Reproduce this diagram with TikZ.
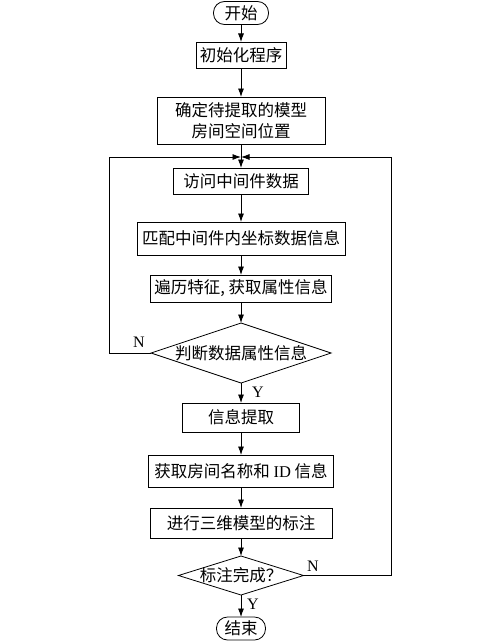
\documentclass[tikz,border=0pt]{standalone}
\usepackage{fontspec}
\setmainfont{Liberation Serif}
\newfontfamily\cjk{Noto Sans CJK SC}
\usetikzlibrary{shapes.geometric,arrows.meta}
\begin{document}
\begin{tikzpicture}[x=1pt,y=-1pt,
  every node/.style={inner sep=0pt, outer sep=0pt},
  proc/.style={draw, line width=0.8pt, font=\cjk\fontsize{16.5}{21}\selectfont, align=center},
  term/.style={proc, rounded corners=11pt},
  decide/.style={draw, diamond, line width=0.8pt, font=\cjk\fontsize{16.5}{21}\selectfont},
  flow/.style={line width=0.8pt, -{Latex[length=8.5pt,width=6pt]}},
  lbl/.style={font=\fontsize{16}{16}\selectfont}]
\useasboundingbox (0,0) rectangle (500,642);
\fill[white] (0,0) rectangle (500,642);
\node[term, minimum width=55pt, minimum height=23pt] (s) at (241,13) {开始};
\node[proc, minimum width=90pt, minimum height=26pt] (b1) at (241,55) {初始化程序};
\node[proc, minimum width=168pt, minimum height=47pt] (b2) at (241,120.5) {确定待提取的模型\\房间空间位置};
\coordinate (j) at (241,157);
\coordinate (lc) at (109,157);
\coordinate (rc) at (391,157);
\node[proc, minimum width=135pt, minimum height=26pt] (b3) at (241,181) {访问中间件数据};
\node[proc, minimum width=208pt, minimum height=33pt] (b4) at (241,238.5) {匹配中间件内坐标数据信息};
\node[proc, minimum width=181pt, minimum height=27pt] (b5) at (241,288.5) {遍历特征, 获取属性信息};
\node[decide, minimum width=180pt, minimum height=60pt] (d1) at (241,353) {\makebox[0pt]{判断数据属性信息}};
\node[proc, minimum width=117pt, minimum height=29pt] (b6) at (241,417.5) {信息提取};
\node[proc, minimum width=185pt, minimum height=32pt] (b7) at (241,471) {获取房间名称和 {\rmfamily ID} 信息};
\node[proc, minimum width=182pt, minimum height=30pt] (b8) at (241,523) {进行三维模型的标注};
\node[decide, minimum width=125pt, minimum height=39pt] (d2) at (241,575.5) {\makebox[0pt]{标注完成？}};
\node[term, minimum width=49pt, minimum height=23pt] (e) at (241,628.5) {结束};
\draw[flow] (s) -- (b1);
\draw[flow] (b1) -- (b2);
\draw[flow] (b2) -- (b3);
\draw[flow] (b3) -- (b4);
\draw[flow] (b4) -- (b5);
\draw[flow] (b5) -- (d1);
\draw[flow] (d1) -- (b6);
\draw[flow] (b6) -- (b7);
\draw[flow] (b7) -- (b8);
\draw[flow] (b8) -- (d2);
\draw[flow] (d2) -- (e);
\draw[flow] (d1.west) -| (lc) -- (j);
\draw[flow] (d2.east) -| (rc) -- (j);
\node[lbl] (n1) at (139,342) {N};
\node[lbl] (y1) at (258,392) {Y};
\node[lbl] (n2) at (313,566) {N};
\node[lbl] (y2) at (253,604) {Y};
\end{tikzpicture}
\end{document}
